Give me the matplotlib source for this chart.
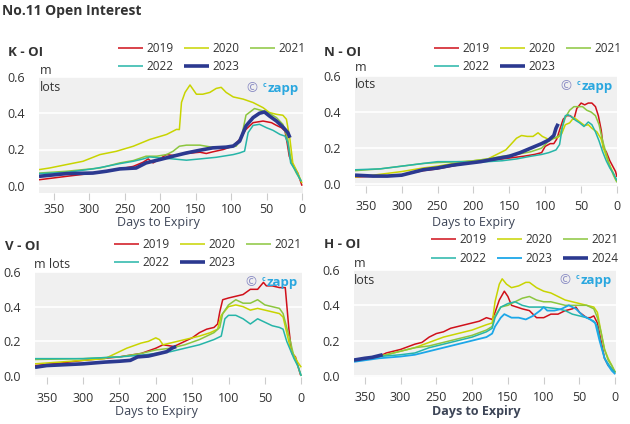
import matplotlib
matplotlib.use("Agg")
import matplotlib.pyplot as plt
from matplotlib.ticker import FormatStrFormatter
from matplotlib.offsetbox import TextArea, HPacker, AnchoredOffsetbox

plt.rcParams['font.family'] = ['Open Sans', 'DejaVu Sans']
plt.rcParams['text.color'] = '#333333'

# (days to expiry, open interest in m lots)
k_2019 = [(371, 0.033), (332, 0.052), (285, 0.074), (262, 0.089), (238, 0.107), (224, 0.13),
          (217, 0.148), (210, 0.126), (201, 0.148), (191, 0.172), (182, 0.167), (163, 0.178),
          (144, 0.185), (135, 0.178), (126, 0.187), (111, 0.2), (97, 0.219), (88, 0.256),
          (79, 0.311), (69, 0.348), (55, 0.357), (43, 0.348), (36, 0.333), (29, 0.32),
          (24, 0.302), (21, 0.237), (18, 0.163), (13, 0.117), (6, 0.07), (0, 0.0)]
k_2020 = [(371, 0.089), (356, 0.098), (332, 0.117), (309, 0.135), (285, 0.172), (262, 0.19),
          (238, 0.218), (215, 0.255), (191, 0.283), (177, 0.311), (173, 0.31), (170, 0.46),
          (165, 0.515), (158, 0.556), (149, 0.505), (140, 0.505), (130, 0.515), (121, 0.537),
          (114, 0.543), (107, 0.515), (97, 0.49), (83, 0.478), (69, 0.459), (55, 0.431),
          (46, 0.404), (36, 0.394), (27, 0.389), (22, 0.367), (17, 0.256), (13, 0.126),
          (6, 0.07), (0, 0.015)]
k_2021 = [(371, 0.07), (332, 0.08), (285, 0.098), (257, 0.126), (238, 0.139), (220, 0.163),
          (205, 0.163), (191, 0.172), (182, 0.19), (173, 0.218), (163, 0.224), (144, 0.224),
          (135, 0.218), (121, 0.209), (102, 0.215), (93, 0.218), (86, 0.256), (79, 0.39),
          (67, 0.426), (55, 0.413), (46, 0.4), (36, 0.376), (27, 0.339), (20, 0.256),
          (15, 0.126), (8, 0.07), (1, 0.024)]
k_2022 = [(371, 0.067), (332, 0.074), (295, 0.093), (276, 0.107), (257, 0.122), (238, 0.135),
          (224, 0.148), (215, 0.159), (201, 0.154), (182, 0.148), (163, 0.141), (144, 0.148),
          (121, 0.157), (97, 0.172), (88, 0.181), (81, 0.191), (76, 0.293), (69, 0.333),
          (60, 0.339), (50, 0.32), (41, 0.306), (31, 0.283), (24, 0.274), (20, 0.237),
          (16, 0.126), (10, 0.089), (1, 0.024)]
k_2023 = [(371, 0.052), (332, 0.067), (295, 0.07), (276, 0.08), (257, 0.093), (234, 0.098),
          (220, 0.126), (201, 0.144), (182, 0.163), (163, 0.181), (144, 0.196), (126, 0.209),
          (107, 0.213), (97, 0.219), (88, 0.246), (79, 0.33), (69, 0.376), (60, 0.4),
          (53, 0.407), (46, 0.385), (36, 0.357), (27, 0.324), (20, 0.293), (17, 0.265)]

n_2019 = [(365, 0.04), (330, 0.045), (300, 0.05), (290, 0.06), (270, 0.075), (250, 0.085),
          (230, 0.1), (210, 0.115), (190, 0.125), (170, 0.135), (150, 0.145), (130, 0.155),
          (115, 0.165), (105, 0.175), (100, 0.21), (93, 0.225), (88, 0.225), (84, 0.25),
          (80, 0.3), (75, 0.36), (70, 0.38), (65, 0.38), (60, 0.36), (56, 0.42), (50, 0.45),
          (45, 0.44), (40, 0.45), (35, 0.45), (30, 0.43), (26, 0.38), (22, 0.3), (19, 0.2),
          (15, 0.18), (10, 0.13), (6, 0.1), (2, 0.07), (0, 0.04)]
n_2020 = [(365, 0.04), (340, 0.05), (300, 0.07), (270, 0.09), (250, 0.1), (220, 0.12),
          (200, 0.13), (180, 0.14), (165, 0.17), (155, 0.19), (148, 0.22), (140, 0.255),
          (133, 0.27), (125, 0.265), (117, 0.265), (110, 0.285), (104, 0.265), (96, 0.25),
          (88, 0.255), (82, 0.26), (77, 0.28), (72, 0.33), (66, 0.34), (60, 0.37), (55, 0.355),
          (50, 0.34), (45, 0.325), (40, 0.33), (35, 0.31), (28, 0.29), (22, 0.25), (18, 0.19),
          (12, 0.12), (6, 0.07), (1, 0.02)]
n_2021 = [(365, 0.075), (330, 0.085), (300, 0.1), (270, 0.115), (250, 0.12), (220, 0.125),
          (200, 0.13), (180, 0.14), (160, 0.155), (140, 0.165), (120, 0.18), (105, 0.2),
          (95, 0.24), (85, 0.26), (80, 0.27), (76, 0.32), (72, 0.37), (66, 0.41), (60, 0.43),
          (54, 0.43), (48, 0.43), (42, 0.41), (36, 0.4), (30, 0.38), (25, 0.33), (20, 0.24),
          (15, 0.17), (10, 0.1), (5, 0.05), (0, 0.01)]
n_2022 = [(365, 0.08), (330, 0.085), (300, 0.1), (270, 0.115), (250, 0.125), (220, 0.125),
          (200, 0.12), (180, 0.125), (160, 0.13), (140, 0.14), (120, 0.155), (105, 0.165),
          (95, 0.175), (85, 0.19), (80, 0.22), (76, 0.32), (72, 0.38), (68, 0.385), (62, 0.37),
          (58, 0.355), (52, 0.34), (46, 0.32), (40, 0.345), (35, 0.33), (30, 0.29), (25, 0.24),
          (20, 0.18), (15, 0.13), (10, 0.09), (5, 0.06), (0, 0.02)]
n_2023 = [(365, 0.05), (340, 0.045), (320, 0.045), (300, 0.05), (285, 0.065), (270, 0.08),
          (250, 0.09), (230, 0.105), (210, 0.115), (190, 0.125), (170, 0.14), (150, 0.155),
          (135, 0.175), (120, 0.2), (105, 0.225), (95, 0.245), (88, 0.27), (85, 0.31), (82, 0.335)]

v_2019 = [(366, 0.06), (330, 0.075), (300, 0.09), (250, 0.11), (220, 0.13), (200, 0.16),
          (190, 0.18), (175, 0.17), (160, 0.2), (150, 0.22), (140, 0.25), (130, 0.27),
          (120, 0.28), (115, 0.3), (112, 0.37), (108, 0.44), (100, 0.45), (90, 0.46), (80, 0.47),
          (70, 0.5), (60, 0.5), (52, 0.54), (48, 0.52), (40, 0.52), (30, 0.51), (22, 0.51),
          (17, 0.27), (13, 0.13), (8, 0.11), (1, 0.005)]
v_2020 = [(366, 0.07), (300, 0.09), (270, 0.1), (260, 0.12), (240, 0.16), (220, 0.19),
          (210, 0.2), (200, 0.22), (195, 0.21), (190, 0.18), (180, 0.19), (170, 0.2), (160, 0.21),
          (150, 0.22), (140, 0.23), (125, 0.25), (115, 0.27), (110, 0.35), (100, 0.4), (90, 0.41),
          (80, 0.4), (70, 0.38), (60, 0.39), (50, 0.38), (40, 0.37), (30, 0.36), (25, 0.34),
          (20, 0.25), (15, 0.16), (10, 0.12), (5, 0.08), (0, 0.05)]
v_2021 = [(366, 0.095), (300, 0.1), (250, 0.11), (220, 0.13), (200, 0.15), (180, 0.16),
          (160, 0.18), (140, 0.21), (120, 0.25), (112, 0.28), (108, 0.36), (100, 0.41),
          (90, 0.44), (80, 0.42), (70, 0.42), (60, 0.44), (50, 0.41), (40, 0.4), (30, 0.39),
          (25, 0.36), (20, 0.28), (15, 0.2), (10, 0.11), (5, 0.06), (0, 0.0)]
v_2022 = [(366, 0.1), (300, 0.1), (250, 0.11), (220, 0.12), (200, 0.13), (180, 0.14),
          (160, 0.16), (140, 0.18), (120, 0.21), (110, 0.23), (105, 0.33), (100, 0.35), (90, 0.35),
          (80, 0.33), (70, 0.3), (60, 0.33), (50, 0.31), (40, 0.29), (30, 0.28), (25, 0.27),
          (20, 0.2), (15, 0.15), (10, 0.1), (5, 0.06), (0, 0.0)]
v_2023 = [(366, 0.05), (350, 0.06), (300, 0.07), (270, 0.08), (250, 0.085), (235, 0.09),
          (225, 0.11), (210, 0.115), (195, 0.13), (185, 0.14), (178, 0.16), (172, 0.17)]

h_2019 = [(365, 0.09), (330, 0.11), (320, 0.13), (300, 0.15), (280, 0.18), (270, 0.19),
          (260, 0.22), (250, 0.24), (240, 0.25), (230, 0.27), (220, 0.28), (200, 0.3), (190, 0.31),
          (180, 0.33), (172, 0.32), (168, 0.36), (162, 0.43), (155, 0.48), (150, 0.45), (145, 0.4),
          (130, 0.38), (120, 0.37), (110, 0.33), (100, 0.33), (90, 0.35), (80, 0.35), (70, 0.37),
          (60, 0.38), (55, 0.39), (50, 0.36), (40, 0.33), (35, 0.33), (30, 0.34), (25, 0.3),
          (20, 0.2), (15, 0.1), (10, 0.06), (5, 0.04), (0, 0.02)]
h_2020 = [(365, 0.09), (330, 0.11), (300, 0.14), (280, 0.16), (260, 0.19), (240, 0.22),
          (220, 0.24), (200, 0.26), (180, 0.29), (172, 0.3), (168, 0.42), (162, 0.52), (158, 0.55),
          (152, 0.52), (145, 0.5), (135, 0.51), (125, 0.53), (120, 0.53), (110, 0.5), (100, 0.48),
          (90, 0.47), (80, 0.45), (70, 0.43), (60, 0.42), (50, 0.41), (40, 0.4), (30, 0.39),
          (25, 0.36), (20, 0.25), (15, 0.15), (10, 0.1), (5, 0.06), (0, 0.02)]
h_2021 = [(365, 0.09), (330, 0.11), (300, 0.14), (280, 0.16), (260, 0.17), (240, 0.19),
          (220, 0.21), (200, 0.23), (180, 0.26), (172, 0.28), (168, 0.34), (160, 0.39), (150, 0.4),
          (140, 0.42), (130, 0.44), (120, 0.45), (110, 0.43), (100, 0.42), (90, 0.42), (80, 0.41),
          (70, 0.4), (60, 0.4), (50, 0.4), (40, 0.4), (30, 0.38), (25, 0.33), (20, 0.25),
          (15, 0.15), (10, 0.09), (5, 0.06), (0, 0.02)]
h_2022 = [(365, 0.09), (330, 0.11), (300, 0.12), (280, 0.13), (260, 0.16), (240, 0.18),
          (220, 0.2), (200, 0.22), (180, 0.25), (172, 0.27), (168, 0.33), (160, 0.39), (150, 0.41),
          (140, 0.42), (130, 0.4), (120, 0.39), (110, 0.39), (100, 0.39), (80, 0.38), (70, 0.37),
          (60, 0.35), (50, 0.34), (40, 0.33), (30, 0.31), (25, 0.28), (20, 0.18), (15, 0.1),
          (10, 0.07), (5, 0.04), (0, 0.02)]
h_2023 = [(365, 0.08), (330, 0.1), (300, 0.11), (280, 0.12), (260, 0.14), (240, 0.16),
          (220, 0.18), (200, 0.2), (180, 0.22), (172, 0.24), (168, 0.28), (160, 0.33), (155, 0.35),
          (145, 0.33), (135, 0.33), (125, 0.32), (115, 0.34), (105, 0.37), (100, 0.39), (95, 0.37),
          (85, 0.37), (75, 0.38), (65, 0.4), (55, 0.38), (45, 0.34), (35, 0.32), (28, 0.3),
          (22, 0.2), (15, 0.1), (10, 0.06), (5, 0.03), (0, 0.01)]
h_2024 = [(365, 0.09), (350, 0.1), (340, 0.105), (330, 0.115), (325, 0.12)]

RED, YEL, GRN, TEAL, NAVY, BLUE = '#d0101a', '#c8d400', '#8cc63e', '#26b5a8', '#2b3990', '#1ca7e8'
LABEL_COL = '#3d4557'


def watermark(ax):
    parts = [TextArea("©", textprops=dict(color="#8a8cc4", fontsize=9.5)),
             TextArea("c", textprops=dict(color="#2aa7df", fontsize=5, fontweight="bold")),
             TextArea("zapp", textprops=dict(color="#2aa7df", fontsize=9.5, fontweight="bold"))]
    parts[0] = HPacker(children=[parts[0]], pad=0, sep=0)
    inner = HPacker(children=parts[1:], align="top", pad=0, sep=1)
    box = HPacker(children=[parts[0], inner], align="top", pad=0, sep=4)
    ab = AnchoredOffsetbox(loc="upper right", child=box, frameon=False, pad=0, borderpad=0,
                           bbox_to_anchor=(0.985, 0.96), bbox_transform=ax.transAxes)
    ax.add_artist(ab)


def panel(ax, series, ylim, xlim, leg_anchor, xpad):
    lines = []
    for label, data, color, lw in series:
        d, v = zip(*data)
        ln, = ax.plot(d, v, color=color, lw=lw, label=label, solid_capstyle='butt')
        lines.append(ln)
    ax.set_facecolor('#f0f0f0')
    for s in ax.spines.values():
        s.set_visible(False)
    ax.set_xlim(*xlim)
    ax.set_ylim(*ylim)
    ax.set_xticks([350, 300, 250, 200, 150, 100, 50, 0])
    ax.set_yticks([0, 0.2, 0.4, 0.6])
    ax.yaxis.set_major_formatter(FormatStrFormatter('%.1f'))
    ax.yaxis.grid(True, color='white', lw=1.2)
    ax.set_axisbelow(True)
    ax.tick_params(axis='y', length=0, pad=10, labelsize=9, labelcolor='#333333')
    ax.tick_params(axis='x', length=5, width=0.8, color='#cccccc', pad=xpad,
                   labelsize=9, labelcolor='#333333')
    # legend rows: 2019 2020 2021 / 2022 2023 (2024)
    order = [0, 3, 1, 4, 2, 5] if len(lines) == 6 else [0, 3, 1, 4, 2]
    ax.legend(handles=[lines[i] for i in order], ncol=3, loc='center right',
              bbox_to_anchor=leg_anchor, bbox_transform=fig.transFigure, frameon=False,
              fontsize=8.5, handlelength=2.1, handletextpad=0.35, columnspacing=0.85,
              labelspacing=0.45, borderpad=0, borderaxespad=0)
    watermark(ax)


fig = plt.figure(figsize=(6.3, 4.24), dpi=100)
W, H = 630, 424


def box(l, t, r, b):
    return [l / W, 1 - b / H, (r - l) / W, (b - t) / H]


ax_k = fig.add_axes(box(39, 77, 303, 193))
ax_n = fig.add_axes(box(355, 76, 617, 186))
ax_v = fig.add_axes(box(35, 272, 302, 377))
ax_h = fig.add_axes(box(354, 270, 616, 377))

panel(ax_k, [('2019', k_2019, RED, 1.1), ('2020', k_2020, YEL, 1.1), ('2021', k_2021, GRN, 1.1),
             ('2022', k_2022, TEAL, 1.1), ('2023', k_2023, NAVY, 2.6)],
      (-0.04, 0.6), (371, -1.4), (306 / W, 1 - 57.5 / H), 2)
panel(ax_n, [('2019', n_2019, RED, 1.1), ('2020', n_2020, YEL, 1.1), ('2021', n_2021, GRN, 1.1),
             ('2022', n_2022, TEAL, 1.1), ('2023', n_2023, NAVY, 2.6)],
      (-0.01, 0.6), (365, 0), (622 / W, 1 - 57.5 / H), 5)
panel(ax_v, [('2019', v_2019, RED, 1.1), ('2020', v_2020, YEL, 1.1), ('2021', v_2021, GRN, 1.1),
             ('2022', v_2022, TEAL, 1.1), ('2023', v_2023, NAVY, 2.6)],
      (-0.006, 0.6), (366, -1), (302 / W, 1 - 253.5 / H), 6)
panel(ax_h, [('2019', h_2019, RED, 1.1), ('2020', h_2020, YEL, 1.1), ('2021', h_2021, GRN, 1.1),
             ('2022', h_2022, TEAL, 1.1), ('2023', h_2023, BLUE, 1.3), ('2024', h_2024, NAVY, 2.6)],
      (-0.006, 0.6), (365, -1), (619 / W, 1 - 249 / H), 5)

fig.text(2 / W, 1 - 11 / H, 'No.11 Open Interest', fontsize=10, fontweight='bold', va='center')
for x, y, t in [(8, 52, 'K - OI'), (324, 52, 'N - OI'), (5, 246, 'V - OI'), (324, 244, 'H - OI')]:
    fig.text(x / W, 1 - y / H, t, fontsize=9.5, fontweight='bold', va='center')

fig.text(40 / W, 1 - 79 / H, 'm\nlots', fontsize=9, va='center', linespacing=1.45)
fig.text(355 / W, 1 - 76 / H, 'm\nlots', fontsize=9, va='center', linespacing=1.45)
fig.text(34 / W, 1 - 265 / H, 'm lots', fontsize=9, va='center')
fig.text(354 / W, 1 - 272 / H, 'm\nlots', fontsize=9, va='center', linespacing=1.45)

fig.text(158 / W, 1 - 222 / H, 'Days to Expiry', fontsize=9, ha='center', va='center', color=LABEL_COL)
fig.text(473 / W, 1 - 222 / H, 'Days to Expiry', fontsize=9, ha='center', va='center', color=LABEL_COL)
fig.text(156 / W, 1 - 412 / H, 'Days to Expiry', fontsize=9, ha='center', va='center', color=LABEL_COL)
fig.text(476 / W, 1 - 412 / H, 'Days to Expiry', fontsize=9, ha='center', va='center',
         fontweight='bold', color=LABEL_COL)

fig.savefig('out.png', dpi=100)
